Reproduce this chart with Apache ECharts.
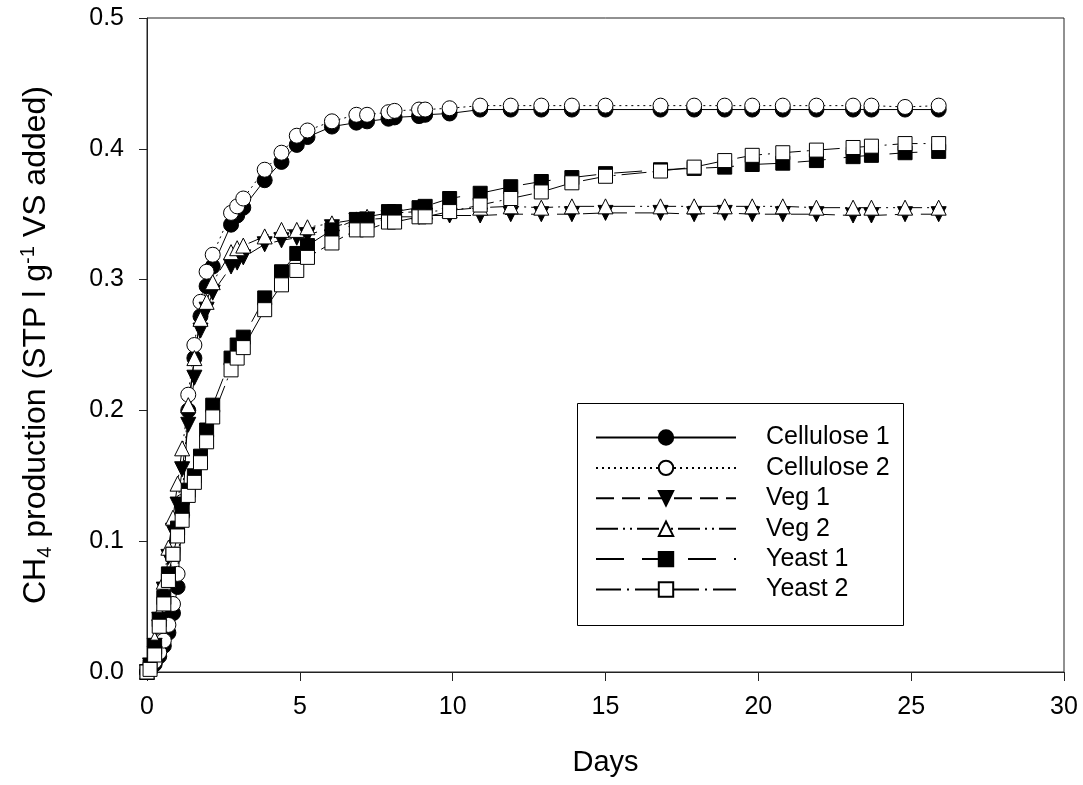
<!DOCTYPE html>
<html>
<head>
<meta charset="utf-8">
<script src="https://cdn.jsdelivr.net/npm/echarts@6/dist/echarts.min.js"></script>
<style>html,body{margin:0;padding:0;background:#fff;}#c{width:1083px;height:785px;}</style>
</head>
<body>
<div id="c"></div>
<script>
var days = [0, 0.1, 0.25, 0.4, 0.55, 0.7, 0.85, 1.0, 1.15, 1.35, 1.55, 1.75, 1.95, 2.15, 2.75, 2.95, 3.15, 3.85, 4.4, 4.9, 5.25, 6.05, 6.85, 7.2, 7.9, 8.1, 8.9, 9.1, 9.9, 10.9, 11.9, 12.9, 13.9, 15.0, 16.8, 17.9, 18.9, 19.8, 20.8, 21.9, 23.1, 23.7, 24.8, 25.9];
var cellulose1 = [0, 0.002, 0.006, 0.012, 0.02, 0.03, 0.045, 0.065, 0.12, 0.2, 0.24, 0.272, 0.295, 0.31, 0.342, 0.349, 0.355, 0.376, 0.39, 0.403, 0.409, 0.417, 0.42, 0.421, 0.423, 0.424, 0.425, 0.426, 0.427, 0.43, 0.43, 0.43, 0.43, 0.43, 0.43, 0.43, 0.43, 0.43, 0.43, 0.43, 0.43, 0.43, 0.43, 0.43];
var cellulose2 = [0, 0.003, 0.008, 0.015, 0.024, 0.036, 0.052, 0.075, 0.13, 0.212, 0.25, 0.283, 0.306, 0.319, 0.351, 0.356, 0.362, 0.384, 0.397, 0.41, 0.414, 0.421, 0.426, 0.426, 0.428, 0.429, 0.43, 0.43, 0.431, 0.433, 0.433, 0.433, 0.433, 0.433, 0.433, 0.433, 0.433, 0.433, 0.433, 0.433, 0.433, 0.433, 0.432, 0.433];
var veg1 = [0, 0.005, 0.02, 0.04, 0.063, 0.088, 0.108, 0.128, 0.155, 0.189, 0.225, 0.261, 0.277, 0.29, 0.31, 0.313, 0.317, 0.327, 0.33, 0.332, 0.334, 0.34, 0.345, 0.346, 0.347, 0.348, 0.348, 0.349, 0.349, 0.349, 0.35, 0.35, 0.35, 0.351, 0.351, 0.35, 0.351, 0.35, 0.35, 0.35, 0.349, 0.349, 0.35, 0.35];
var veg2 = [0, 0.006, 0.025, 0.045, 0.069, 0.095, 0.118, 0.144, 0.171, 0.204, 0.24, 0.27, 0.283, 0.298, 0.321, 0.324, 0.326, 0.333, 0.338, 0.338, 0.34, 0.343, 0.346, 0.348, 0.351, 0.351, 0.352, 0.352, 0.353, 0.355, 0.356, 0.355, 0.356, 0.356, 0.356, 0.356, 0.356, 0.356, 0.356, 0.355, 0.355, 0.355, 0.355, 0.355];
var yeast1 = [0, 0.004, 0.019, 0.04, 0.057, 0.075, 0.09, 0.11, 0.125, 0.139, 0.15, 0.165, 0.185, 0.204, 0.24, 0.25, 0.256, 0.286, 0.306, 0.32, 0.326, 0.338, 0.346, 0.346, 0.352, 0.352, 0.355, 0.356, 0.362, 0.366, 0.371, 0.375, 0.378, 0.381, 0.384, 0.385, 0.386, 0.388, 0.389, 0.391, 0.394, 0.395, 0.397, 0.398];
var yeast2 = [0, 0.002, 0.013, 0.035, 0.052, 0.07, 0.09, 0.104, 0.116, 0.135, 0.145, 0.16, 0.176, 0.195, 0.231, 0.24, 0.248, 0.277, 0.296, 0.307, 0.317, 0.328, 0.338, 0.338, 0.344, 0.344, 0.348, 0.348, 0.352, 0.357, 0.362, 0.367, 0.374, 0.379, 0.383, 0.386, 0.391, 0.395, 0.397, 0.399, 0.401, 0.402, 0.404, 0.404];
var xTicks = [0, 5, 10, 15, 20, 25, 30];
var yTicks = [0.0, 0.1, 0.2, 0.3, 0.4, 0.5];
var seriesNames = ['Cellulose 1', 'Cellulose 2', 'Veg 1', 'Veg 2', 'Yeast 1', 'Yeast 2'];

function zip(vals) { return days.map(function (d, i) { return [d, vals[i]]; }); }

var FONT = "'Liberation Sans', Arial, sans-serif";
var defs = [
  {vals: cellulose1, symbol: 'circle', fill: '#000', dash: 'solid', size: 15, rot: 0},
  {vals: cellulose2, symbol: 'circle', fill: '#fff', dash: [2, 4], size: 15, rot: 0},
  {vals: veg1, symbol: 'triangle', fill: '#000', dash: [18, 8], size: 15, rot: 180},
  {vals: veg2, symbol: 'triangle', fill: '#fff', dash: [22, 5, 2, 5, 2, 5], size: 15, rot: 0},
  {vals: yeast1, symbol: 'rect', fill: '#000', dash: [28, 18], size: 14, rot: 0},
  {vals: yeast2, symbol: 'rect', fill: '#fff', dash: [25, 6, 2, 6], size: 14, rot: 0}
];

var series = defs.map(function (d, i) {
  return {
    name: seriesNames[i],
    type: 'line',
    data: zip(d.vals),
    symbol: d.symbol,
    symbolSize: d.size,
    symbolRotate: d.rot,
    showAllSymbol: true,
    lineStyle: {color: '#000', width: 1, type: d.dash},
    itemStyle: {color: d.fill, borderColor: '#000', borderWidth: 1},
    emphasis: {disabled: true}
  };
});

var chart = echarts.init(document.getElementById('c'));
chart.setOption({
  animation: false,
  backgroundColor: '#fff',
  grid: {left: 147, right: 19, top: 18, bottom: 113, show: true, borderColor: '#222', borderWidth: 1},
  graphic: [{
    type: 'rect', left: 577, top: 403, z: 0,
    shape: {width: 326, height: 222},
    style: {fill: '#fff', stroke: '#000', lineWidth: 1}
  }],
  legend: {
    orient: 'vertical',
    left: 595, top: 425, z: 5,
    data: seriesNames,
    itemWidth: 140, itemHeight: 18, itemGap: 5.4,
    padding: 0,
    textStyle: {fontFamily: FONT, fontSize: 25, color: '#000', padding: [0, 0, 0, 25]},
    selectedMode: false
  },
  xAxis: {
    type: 'value', min: 0, max: 30, interval: 5,
    name: 'Days', nameLocation: 'middle', nameGap: 76,
    nameTextStyle: {fontFamily: FONT, fontSize: 29, color: '#000'},
    axisLine: {lineStyle: {color: '#222', width: 1}},
    axisTick: {length: 9, lineStyle: {color: '#222'}},
    axisLabel: {fontFamily: FONT, fontSize: 25, color: '#000', margin: 23,
      formatter: function (v) { return xTicks.indexOf(v) >= 0 ? String(v) : ''; }},
    splitLine: {show: false}
  },
  yAxis: {
    type: 'value', min: 0, max: 0.5, interval: 0.1,
    name: '{a|CH}{sub|4}{a| production (STP l g}{sup|-1}{a| VS added)}',
    nameLocation: 'middle', nameGap: 92, nameRotate: 90,
    nameTextStyle: {
      fontFamily: FONT, fontSize: 32, color: '#000',
      rich: {
        a: {fontFamily: FONT, fontSize: 32, color: '#000'},
        sub: {fontFamily: FONT, fontSize: 20, color: '#000', padding: [17, 0, 0, 0]},
        sup: {fontFamily: FONT, fontSize: 20, color: '#000', padding: [0, 0, 17, 0]}
      }
    },
    axisLine: {lineStyle: {color: '#222', width: 1}},
    axisTick: {length: 8, lineStyle: {color: '#222'}},
    axisLabel: {fontFamily: FONT, fontSize: 25, color: '#000', margin: 23,
      formatter: function (v) {
        var i = yTicks.findIndex(function (t) { return Math.abs(t - v) < 1e-9; });
        return i >= 0 ? yTicks[i].toFixed(1) : '';
      }},
    splitLine: {show: false}
  },
  series: series
});
</script>
</body>
</html>
